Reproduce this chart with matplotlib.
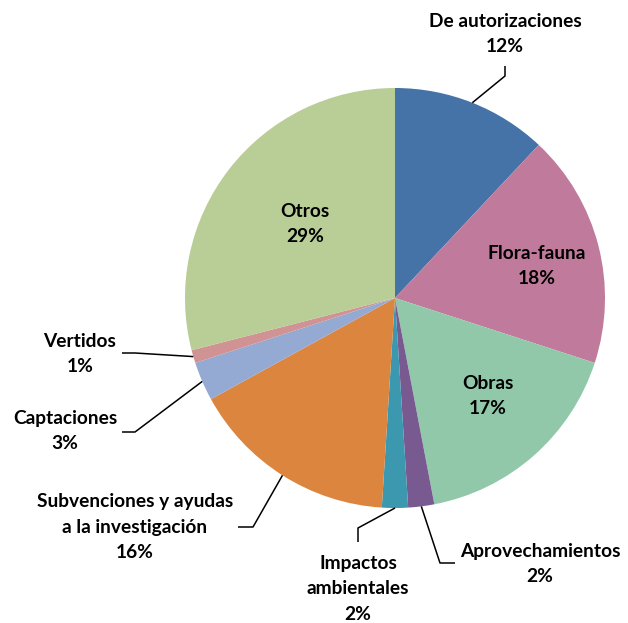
import numpy as np
import matplotlib
matplotlib.use("Agg")
import matplotlib.pyplot as plt

plt.rcParams['font.family'] = ['Lato', 'DejaVu Sans']

categorias = ["De autorizaciones", "Flora-fauna", "Obras", "Aprovechamientos",
              "Impactos\nambientales", "Subvenciones y ayudas\na la investigación",
              "Captaciones", "Vertidos", "Otros"]
porcentajes = [12, 18, 17, 2, 2, 16, 3, 1, 29]
colores = ["#4572A7", "#C07A9B", "#92C8AA", "#785A91", "#3C98AF",
           "#DC853E", "#94AAD2", "#D09292", "#B9CD96"]

W, H = 628, 623
fig = plt.figure(figsize=(W / 100, H / 100), dpi=100)
ax = fig.add_axes([0, 0, 1, 1])

cx, cy, r = 395, H - 298, 210
wedges, _ = ax.pie(porcentajes, colors=colores, startangle=90, counterclock=False,
                   center=(cx, cy), radius=r, frame=True,
                   wedgeprops=dict(linewidth=0))
ax.set_xlim(0, W)
ax.set_ylim(0, H)
ax.set_aspect('equal')
ax.axis('off')

def punto(i, frac=0.5, rad=1.0):
    w = wedges[i]
    a = np.deg2rad(w.theta1 + (w.theta2 - w.theta1) * frac)
    return cx + r * rad * np.cos(a), cy + r * rad * np.sin(a)

fs = 13.8
def etiqueta(x, y, txt):
    ax.text(x, H - y, txt, ha='center', va='center', fontsize=fs,
            fontweight='bold', linespacing=1.6)

# etiquetas dentro
etiqueta(305, 224, "Otros\n29%")
etiqueta(537, 266, "Flora-fauna\n18%")
etiqueta(488, 396, "Obras\n17%")

# etiquetas fuera
etiqueta(505, 34, categorias[0] + "\n12%")
etiqueta(540, 564, categorias[3] + "\n2%")
etiqueta(358, 589, categorias[4] + "\n2%")
etiqueta(135, 527, categorias[5] + "\n16%")
etiqueta(65, 431, categorias[6] + "\n3%")
etiqueta(80, 354, categorias[7] + "\n1%")

def guia(i, pts, frac=0.5):
    x0, y0 = punto(i, frac)
    xs = [x0] + [p[0] for p in pts]
    ys = [y0] + [H - p[1] for p in pts]
    ax.plot(xs, ys, color='black', lw=1.1, solid_capstyle='butt')

guia(0, [(505, 76), (505, 66)])
guia(3, [(440, 563), (455, 563)])
guia(4, [(358, 528), (358, 542)])
guia(5, [(253, 527), (238, 527)])
guia(6, [(135, 432), (122, 432)])
guia(7, [(135, 353), (122, 353)])

fig.savefig("out.png", dpi=100)
